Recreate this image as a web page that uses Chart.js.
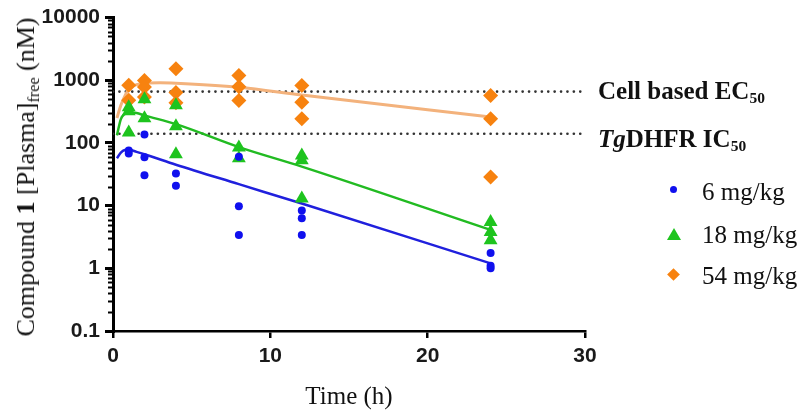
<!DOCTYPE html>
<html>
<head>
<meta charset="utf-8">
<script src="https://cdn.jsdelivr.net/npm/chart.js@4/dist/chart.umd.min.js"></script>
<style>
  html, body { margin: 0; padding: 0; background: #fff; }
  #wrap { position: relative; width: 800px; height: 416px; overflow: hidden; }
  #c { position: absolute; left: 0; top: 0; }
  .serif { font-family: 'Liberation Serif', 'Times New Roman', serif; color: #111; position: absolute; white-space: nowrap; line-height: 1; }
  sub { font-size: 62%; vertical-align: -0.3em; line-height: 0; }
  .ytitle { left: 26px; top: 177px; font-size: 26px; transform: translate(-50%, -50%) rotate(-90deg); }
  .ref { left: 598px; font-size: 25px; font-weight: bold; transform: translateY(-50%); }
  .leg { left: 702px; font-size: 25px; transform: translateY(-50%); }
  .mk { position: absolute; }
  .dot { width: 7px; height: 7px; border-radius: 50%; background: #1010ee; left: 670px; }
  .tri { width: 0; height: 0; border-left: 7px solid transparent; border-right: 7px solid transparent; border-bottom: 12px solid #1ec41e; left: 667px; }
  .dia { width: 9px; height: 9px; background: #f7820f; transform: rotate(45deg); left: 669px; }
</style>
</head>
<body>
<div id="wrap">
  <canvas id="c" width="800" height="416"></canvas>
  <div class="serif ytitle">Compound <b>1</b> [Plasma]<sub>free</sub> (nM)</div>
  <div class="serif ref" style="top:90px;">Cell based EC<sub>50</sub></div>
  <div class="serif ref" style="top:138px;"><i>Tg</i>DHFR IC<sub>50</sub></div>
  <span class="mk dot" style="top:186px;"></span>
  <div class="serif leg" style="top:191px;">6 mg/kg</div>
  <span class="mk tri" style="top:228px;"></span>
  <div class="serif leg" style="top:234px;">18 mg/kg</div>
  <span class="mk dia" style="top:270px;"></span>
  <div class="serif leg" style="top:275px;">54 mg/kg</div>
</div>
<script>
// measured free plasma concentrations (nM) vs time (h)
const t6 = [1, 1, 2, 2, 2, 4, 4, 8, 8, 8, 12, 12, 12, 24, 24, 24];
const c6 = [76, 68, 137, 59, 30.5, 32.6, 20.7, 60, 9.8, 3.4, 8.4, 6.3, 3.4, 1.75, 1.1, 1.0];

const t18 = [1, 1, 1, 2, 2, 4, 4, 4, 8, 8, 12, 12, 12, 24, 24, 24];
const c18 = [370, 320, 147, 500, 247, 400, 184, 66, 85, 57, 63, 53, 13, 5.5, 3.8, 2.8];

const t54 = [1, 1, 2, 2, 2, 4, 4, 4, 8, 8, 8, 12, 12, 12, 24, 24, 24];
const c54 = [830, 480, 990, 780, 540, 1530, 640, 440, 1190, 790, 477, 826, 448, 244, 570, 244, 28.7];

// model fit curves
const fitT6 = [0.25, 0.5, 0.75, 1, 1.5, 2, 4, 8, 12, 24];
const fitC6 = [57, 70, 77, 78, 72, 66, 45, 22, 10.8, 1.2];
const fitT18 = [0.25, 0.5, 0.75, 1, 1.5, 2, 4, 8, 12, 24];
const fitC18 = [132, 240, 290, 310, 300, 275, 200, 86, 42, 4.1];
const fitT54 = [0.25, 0.5, 0.75, 1, 1.5, 2, 3, 4, 8, 12, 24];
const fitC54 = [250, 400, 560, 720, 850, 900, 915, 900, 775, 580, 260];

// reference potencies (nM)
const ec50 = 660;
const ic50 = 140;
const refSpan = [0, 30];

const xTicks = [0, 10, 20, 30];
const yDecades = [0.1, 1, 10, 100, 1000, 10000];
const yLabels = ['0.1', '1', '10', '100', '1000', '10000'];

const pts = (xs, ys) => xs.map((x, i) => ({ x: x, y: ys[i] }));

const yMinor = [];
yDecades.slice(0, -1).forEach(d => {
  for (let k = 2; k <= 9; k++) yMinor.push(d * k);
});

const minorTicks = {
  id: 'minorTicks',
  afterDraw(chart) {
    const y = chart.scales.y;
    const ctx = chart.ctx;
    ctx.save();
    ctx.strokeStyle = '#000';
    ctx.lineWidth = 2;
    yMinor.forEach(v => {
      const py = Math.round(y.getPixelForValue(v)) + 0.5;
      ctx.beginPath();
      ctx.moveTo(y.right - 5, py);
      ctx.lineTo(y.right, py);
      ctx.stroke();
    });
    ctx.restore();
  }
};

const dotted = {
  showLine: true, pointRadius: 0, borderColor: '#333', borderWidth: 2.6,
  borderDash: [0.1, 6.3], borderCapStyle: 'round'
};
const tickFont = { family: "'Liberation Sans', Arial, sans-serif", size: 21, weight: 'bold' };

new Chart(document.getElementById('c'), {
  type: 'scatter',
  data: {
    datasets: [
      { label: '6 mg/kg', data: pts(t6, c6), backgroundColor: '#1010ee', borderWidth: 0, pointRadius: 4, pointStyle: 'circle' },
      { label: '18 mg/kg', data: pts(t18, c18), backgroundColor: '#1ec41e', borderWidth: 0, pointRadius: 8, pointStyle: 'triangle' },
      { label: '54 mg/kg', data: pts(t54, c54), backgroundColor: '#f7820f', borderWidth: 0, pointRadius: 7.5, pointStyle: 'rectRot' },
      { data: pts(fitT6, fitC6), showLine: true, pointRadius: 0, borderColor: '#2020dd', borderWidth: 2.5, cubicInterpolationMode: 'monotone' },
      { data: pts(fitT18, fitC18), showLine: true, pointRadius: 0, borderColor: '#22bb22', borderWidth: 2.5, cubicInterpolationMode: 'monotone' },
      { data: pts(fitT54, fitC54), showLine: true, pointRadius: 0, borderColor: '#f3b27c', borderWidth: 3, cubicInterpolationMode: 'monotone' },
      Object.assign({ data: pts(refSpan, [ec50, ec50]) }, dotted),
      Object.assign({ data: pts(refSpan, [ic50, ic50]) }, dotted)
    ]
  },
  options: {
    responsive: false,
    devicePixelRatio: 1,
    animation: false,
    layout: { padding: { left: 0, right: 215, top: 17, bottom: 0 } },
    plugins: { legend: { display: false }, tooltip: { enabled: false } },
    scales: {
      x: {
        type: 'linear', min: 0, max: 30,
        afterFit: s => { s.height = 85; },
        afterBuildTicks: s => { s.ticks = xTicks.map(v => ({ value: v })); },
        border: { display: true, color: '#000', width: 2.5 },
        grid: { drawOnChartArea: false, drawTicks: true, tickLength: 7, color: '#000', lineWidth: 2.5 },
        ticks: { font: tickFont, color: '#1a1a1a', padding: 6, maxRotation: 0 },
        title: { display: true, text: 'Time (h)', color: '#111',
          font: { family: "'Liberation Serif', 'Times New Roman', serif", size: 25 },
          padding: { top: 0, bottom: 4 } }
      },
      y: {
        type: 'logarithmic', min: 0.1, max: 10000,
        afterFit: s => { s.width = 113; },
        afterBuildTicks: s => { s.ticks = yDecades.map(v => ({ value: v })); },
        border: { display: true, color: '#000', width: 3 },
        grid: { drawOnChartArea: false, drawTicks: true, tickLength: 8, color: '#000', lineWidth: 3 },
        ticks: { font: tickFont, color: '#1a1a1a', padding: 5, autoSkip: false,
          callback: (v, i) => yLabels[i] }
      }
    }
  },
  plugins: [minorTicks]
});
</script>
</body>
</html>
